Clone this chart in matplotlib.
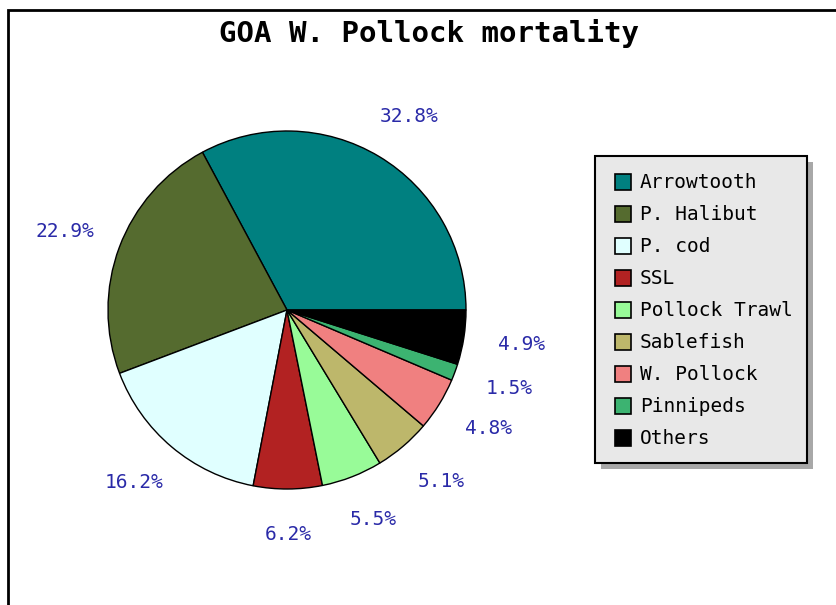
import numpy as np
import matplotlib.pyplot as plt
from matplotlib.patches import Rectangle

# Mortality shares for GOA walleye pollock
labels = ["Arrowtooth", "P. Halibut", "P. cod", "SSL", "Pollock Trawl",
          "Sablefish", "W. Pollock", "Pinnipeds", "Others"]
shares = [32.8, 22.9, 16.2, 6.2, 5.5, 5.1, 4.8, 1.5, 4.9]
colors = ["#008080", "#556b2f", "#e0ffff", "#b22222", "#98fb98",
          "#bdb76b", "#f08080", "#3cb371", "#000000"]

W, H = 836, 605
fig = plt.figure(figsize=(W / 100, H / 100), dpi=100)
ax = fig.add_axes([0, 0, 1, 1])
ax.set_xlim(0, W)
ax.set_ylim(0, H)
ax.set_aspect("equal")
ax.axis("off")

mono = "DejaVu Sans Mono"
label_col = "#2a2aa8"

# outer frame (runs off the right and bottom edges)
ax.add_patch(Rectangle((8, -20), W + 20, H - 10 + 20, fill=False,
                       edgecolor="black", linewidth=2))

ax.text(429, H - 34, "GOA W. Pollock mortality", ha="center", va="center",
        fontsize=21, family=mono, fontweight="bold", color="black")

cx, cy, r = 287, H - 310, 179
wedges, _ = ax.pie(shares, colors=colors, startangle=0, counterclock=True,
                   center=(cx, cy), radius=r,
                   wedgeprops=dict(edgecolor="black", linewidth=1))
ax.set_xlim(0, W)
ax.set_ylim(0, H)

# percentage labels: anchor just outside the rim, pushed out by half the label box
for w, s in zip(wedges, shares):
    mid = np.deg2rad((w.theta1 + w.theta2) / 2)
    ra = r + 37
    x = cx + ra * np.cos(mid) + 21 * np.cos(mid)
    y = cy + ra * np.sin(mid) + 9 * np.sin(mid)
    ax.text(x, y, f"{s:.1f}%", ha="center", va="center", fontsize=14,
            family=mono, color=label_col)

# legend box with drop shadow
lx0, ly_top, lx1, ly_bot = 595, 156, 807, 463
ax.add_patch(Rectangle((lx0 + 6, H - ly_bot - 6), lx1 - lx0, ly_bot - ly_top,
                       facecolor="#a8a8a8", edgecolor="none"))
ax.add_patch(Rectangle((lx0, H - ly_bot), lx1 - lx0, ly_bot - ly_top,
                       facecolor="#e8e8e8", edgecolor="black", linewidth=1.5))
for i, (name, c) in enumerate(zip(labels, colors)):
    y = H - (182 + i * 32)
    ax.add_patch(Rectangle((615, y - 8), 16, 16, facecolor=c,
                           edgecolor="black", linewidth=1.2))
    ax.text(640, y, name, ha="left", va="center", fontsize=14,
            family=mono, color="black")

fig.savefig("out.png", dpi=100)
